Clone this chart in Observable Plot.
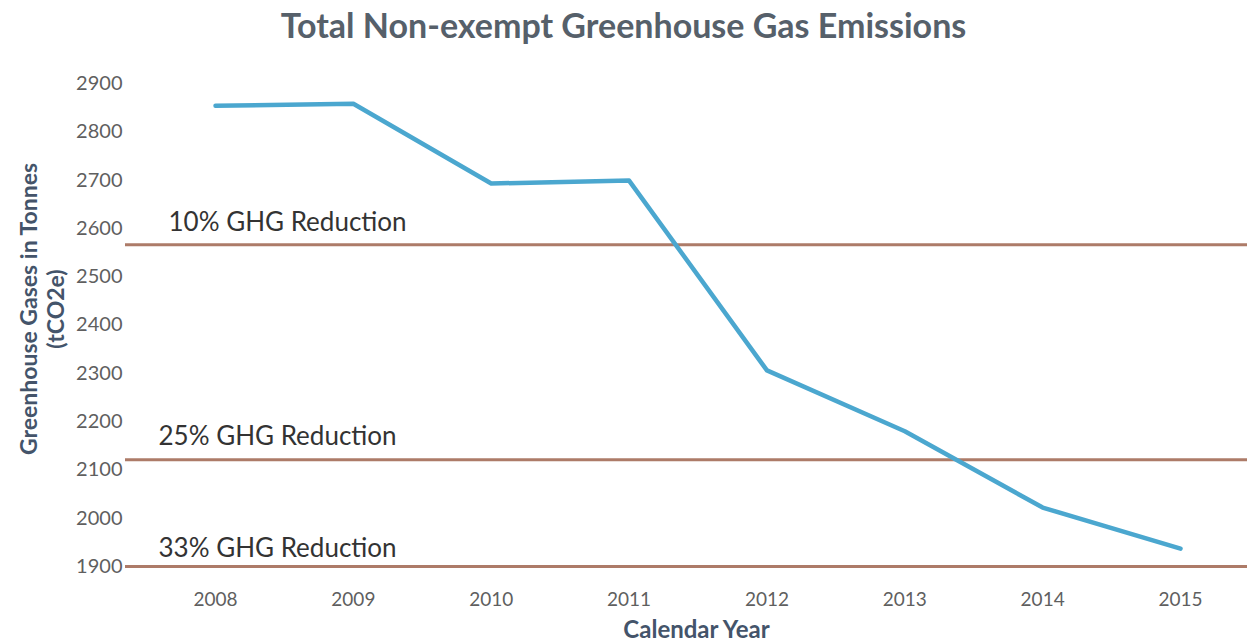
<!DOCTYPE html>
<html>
<head>
<meta charset="utf-8">
<script src="https://cdn.jsdelivr.net/npm/d3@7"></script>
<script src="https://cdn.jsdelivr.net/npm/@observablehq/plot@0.6"></script>
<style>
  html, body { margin: 0; padding: 0; background: #ffffff; }
  #title { height: 50px; line-height: 50px; text-align: center; font-family: Lato, sans-serif; font-weight: bold; font-size: 34px; color: #56606a; padding-left: 0px; }
  svg { display: block; }
</style>
</head>
<body>
<div id="title">Total Non-exempt Greenhouse Gas Emissions</div>
<div id="chart"></div>
<script>
const years = [2008, 2009, 2010, 2011, 2012, 2013, 2014, 2015];
const emissions = [2854, 2858, 2693, 2699, 2306, 2180, 2022, 1937];
const targetLabels = ["10% GHG Reduction", "25% GHG Reduction", "33% GHG Reduction"];
const targetValues = [2566, 2121, 1900];
const yTicks = [1900, 2000, 2100, 2200, 2300, 2400, 2500, 2600, 2700, 2800, 2900];

const series = years.map((y, i) => ({year: y, value: emissions[i]}));
const targets = targetLabels.map((l, i) => ({label: l, value: targetValues[i]}));
const labelDx = [43, 33, 33];
const labelDy = [-22, -23, -18];

const chart = Plot.plot({
  width: 1247,
  height: 592,
  marginLeft: 125,
  marginRight: 0,
  marginTop: 33,
  marginBottom: 76,
  style: {fontFamily: "Lato, sans-serif", background: "transparent"},
  x: {domain: [2007.347, 2015.486], ticks: years, tickFormat: "d", label: null},
  y: {domain: [1900, 2900], ticks: yTicks, tickFormat: "d", label: null},
  marks: [
    Plot.axisY({ticks: yTicks, tickFormat: "d", tickSize: 0, tickPadding: 3, fontSize: 20, color: "#5f5f5f", label: null}),
    Plot.axisX({ticks: years, tickFormat: "d", tickSize: 0, tickPadding: 26, fontSize: 19, color: "#5f5f5f", label: null}),
    Plot.ruleY(targets, {y: "value", stroke: "#ad7b68", strokeWidth: 3}),
    Plot.line(series, {x: "year", y: "value", stroke: "#4ba7cf", strokeWidth: 4.5, strokeLinejoin: "round"}),
    ...targets.map((t, i) => Plot.text([t], {
      y: "value", text: "label", frameAnchor: "left", textAnchor: "start",
      dx: labelDx[i], dy: labelDy[i], fontSize: 26, fill: "#333333"
    })),
    Plot.text(["Calendar Year"], {frameAnchor: "bottom", textAnchor: "middle", dy: 71, dx: 10, fontSize: 24, fontWeight: "bold", fill: "#44546a"}),
    Plot.text(["Greenhouse Gases in Tonnes\n(tCO2e)"], {frameAnchor: "left", textAnchor: "middle", dx: -84, dy: -16, rotate: -90, fontSize: 23, fontWeight: "bold", fill: "#44546a", lineHeight: 1.2})
  ]
});
document.getElementById("chart").appendChild(chart);
</script>
</body>
</html>
